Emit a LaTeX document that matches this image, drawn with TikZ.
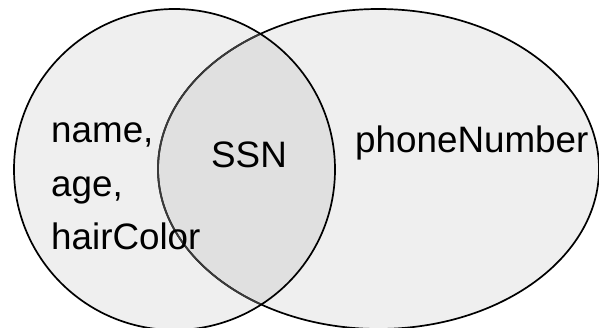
\documentclass[tikz,border=0pt]{standalone}
\usepackage{fontspec}
\setmainfont{Liberation Sans}
\definecolor{setfill}{HTML}{EFEFEF}
\definecolor{overlapfill}{HTML}{E0E0E0}
\definecolor{innerline}{HTML}{3A3A3A}
\begin{document}
\begin{tikzpicture}[x=1pt,y=-1pt,
  setline/.style={line width=1.7pt,draw=black},
  lbl/.style={anchor=base west,inner sep=0pt,font=\fontsize{36.8}{44}\selectfont}]
\useasboundingbox (0,0) rectangle (599,328);
\begin{scope}
\clip (0,0) rectangle (599,328);
\fill[setfill] (174.5,169.5) circle[radius=160.5];
\fill[setfill] (378.5,169) ellipse[x radius=220.5,y radius=160];
\begin{scope}
\clip (174.5,169.5) circle[radius=160.5];
\fill[overlapfill] (378.5,169) ellipse[x radius=220.5,y radius=160];
\end{scope}
\draw[setline] (378.5,169) ellipse[x radius=220.5,y radius=160];
\begin{scope}
\clip (174.5,169.5) circle[radius=160.5];
\draw[line width=1.8pt,innerline] (378.5,169) ellipse[x radius=220.5,y radius=160];
\end{scope}
\draw[setline] (174.5,169.5) circle[radius=160.5];
\end{scope}
\node[lbl] (n1) at (51,143) {name,};
\node[lbl] (n2) at (51,197) {age,};
\node[lbl] (n3) at (51,250) {hairColor};
\node[lbl] (ssn) at (211,167.5) {SSN};
\node[lbl] (ph) at (355,153) {phoneNumber};
\end{tikzpicture}
\end{document}
